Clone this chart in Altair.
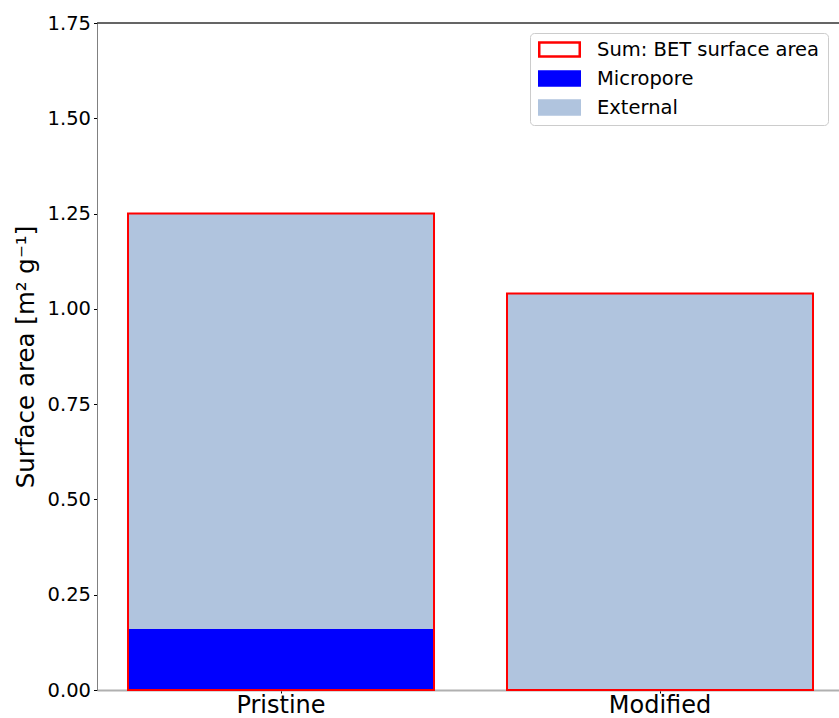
import altair as alt
import pandas as pd

# Surface area per sample, split into micropore and external contributions
samples = ["Pristine", "Modified"]
micropore = [0.16, 0.0]
external = [1.09, 1.04]
bet_total = [1.25, 1.04]

components = ["Sum: BET surface area", "Micropore", "External"]
fill_colors = ["white", "#0000ff", "#b0c4de"]
stroke_colors = ["#ff0000", "#0000ff", "#b0c4de"]
y_ticks = [0.0, 0.25, 0.5, 0.75, 1.0, 1.25, 1.5, 1.75]

W, H = 742, 667
FONT = "DejaVu Sans"

parts = pd.DataFrame(
    [{"sample": s, "component": "Micropore", "value": m, "order": 0} for s, m in zip(samples, micropore)]
    + [{"sample": s, "component": "External", "value": e, "order": 1} for s, e in zip(samples, external)]
)
totals = pd.DataFrame({"sample": samples, "component": components[0], "value": bet_total})

x_enc = alt.X(
    "sample:N",
    sort=samples,
    scale=alt.Scale(paddingInner=0.1926, paddingOuter=0.0752, align=0.544),
    axis=alt.Axis(
        title=None, labelAngle=0, labelFontSize=24, labelFont=FONT, labelColor="black",
        domainColor="#b0b0b0", domainWidth=2, tickColor="black", tickSize=3,
        labelPadding=0,
    ),
)
y_scale = alt.Scale(domain=[0, 1.75], nice=False)
y_axis = alt.Axis(
    title="Surface area [m² g⁻¹]", values=y_ticks, format=".2f", grid=False,
    labelFontSize=19.5, labelFont=FONT, labelColor="black",
    titleFontSize=24.5, titleFont=FONT, titleFontWeight="normal", titleColor="black",
    titlePadding=9, domainColor="#808080", tickColor="black", tickSize=3.5,
    labelPadding=3,
)

legend = alt.Legend(
    title=None, orient="none", legendX=433, legendY=10,
    symbolType="M-1,-0.34L1,-0.34L1,0.34L-1,0.34Z", symbolSize=1640,
    symbolStrokeWidth=2.5, clipHeight=17, rowPadding=9, labelOffset=16,
    labelFontSize=19.5, labelFont=FONT, labelColor="black", labelLimit=0,
    padding=8, strokeColor="#cccccc", cornerRadius=4, fillColor="white",
)

stacked = alt.Chart(parts).mark_bar(strokeWidth=0).encode(
    x=x_enc,
    y=alt.Y("value:Q", stack="zero", scale=y_scale, axis=y_axis),
    fill=alt.Fill("component:N", scale=alt.Scale(domain=components, range=fill_colors), legend=legend),
    order=alt.Order("order:Q"),
)

outline = alt.Chart(totals).mark_bar(fill="transparent", strokeWidth=2).encode(
    x=x_enc,
    y=alt.Y("value:Q", scale=y_scale, axis=y_axis),
    stroke=alt.Stroke("component:N", scale=alt.Scale(domain=components, range=stroke_colors), legend=legend),
)

top_spine = alt.Chart(totals).mark_rule(color="#333333", strokeWidth=1).encode(
    x=alt.value(0), x2=alt.value(W), y=alt.value(0)
)

chart = (
    alt.layer(stacked, outline, top_spine)
    .properties(
        width=W, height=H,
        autosize=alt.AutoSizeParams(type="none"),
        padding={"left": 97, "top": 23, "right": 0, "bottom": 28},
    )
    .configure_view(stroke=None)
)

chart.save("out.html", embed_options={"renderer": "svg", "actions": False})
